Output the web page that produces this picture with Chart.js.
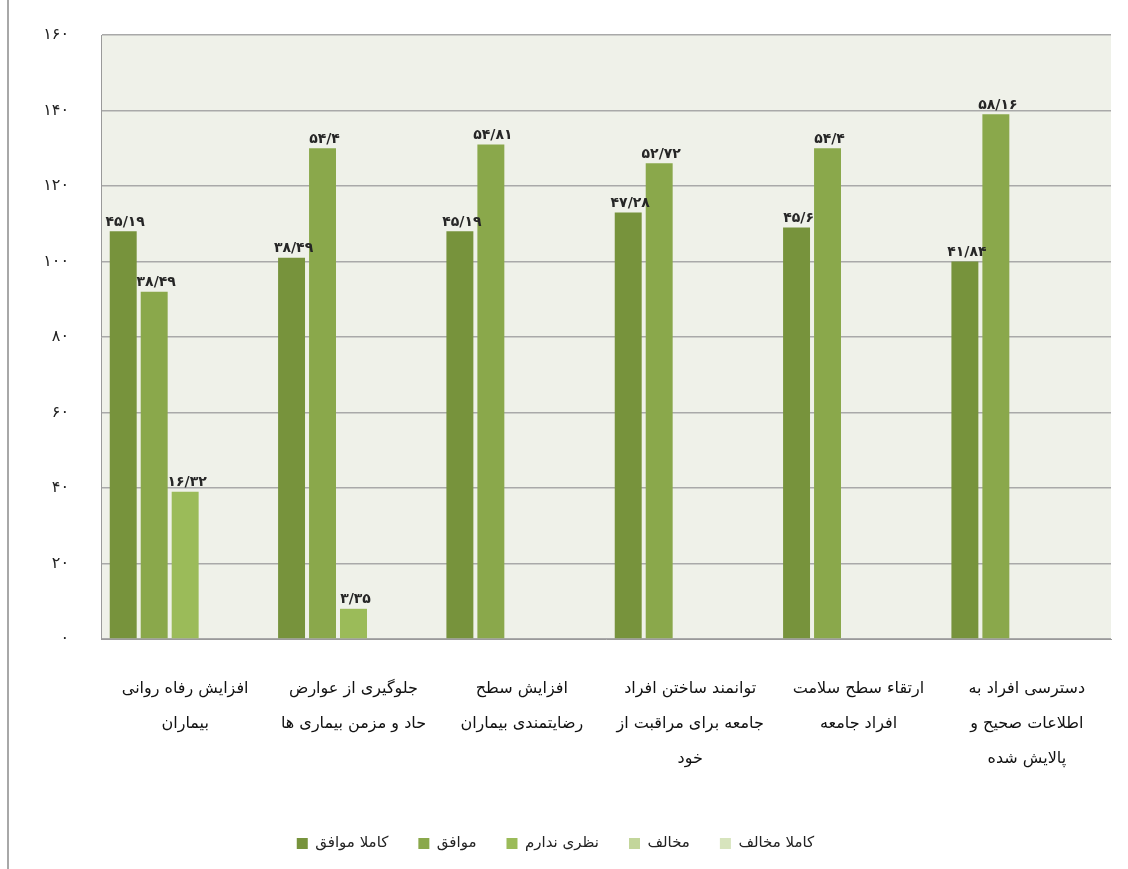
<!DOCTYPE html>
<html>
<head>
<meta charset="utf-8">
<script src="https://cdn.jsdelivr.net/npm/chart.js@4"></script>
<style>
  body { margin: 0; background: #fff; }
  #wrap { position: relative; width: 1128px; height: 869px; }
  #edge { position: absolute; left: 7px; top: 0; width: 2px; height: 869px; background: #a8a8a8; }
</style>
</head>
<body>
<div id="wrap">
  <canvas id="chart" width="1128" height="869"></canvas>
  <div id="edge"></div>
</div>
<script>
const categories = [
  ["افزایش رفاه روانی", "بیماران"],
  ["جلوگیری از عوارض", "حاد و مزمن بیماری ها"],
  ["افزایش سطح", "رضایتمندی بیماران"],
  ["توانمند ساختن افراد", "جامعه برای مراقبت از", "خود"],
  ["ارتقاء سطح سلامت", "افراد جامعه"],
  ["دسترسی افراد به", "اطلاعات صحیح و", "پالایش شده"]
];
const seriesNames = ["کاملا موافق", "موافق", "نظری ندارم", "مخالف", "کاملا مخالف"];
const colors = ["#77933c", "#8aa84b", "#9bbb59", "#c3d69b", "#d7e4bd"];

// bar heights (counts)
const fullyAgree = [108, 101, 108, 113, 109, 100];
const agree = [92, 130, 131, 126, 130, 139];
const noOpinion = [39, 8, null, null, null, null];
const disagree = [null, null, null, null, null, null];
const fullyDisagree = [null, null, null, null, null, null];

// percentages shown above bars
const fullyAgreePct = [45.19, 38.49, 45.19, 47.28, 45.6, 41.84];
const agreePct = [38.49, 54.4, 54.81, 52.72, 54.4, 58.16];
const noOpinionPct = [16.32, 3.35, null, null, null, null];

const seriesData = [fullyAgree, agree, noOpinion, disagree, fullyDisagree];
const seriesPct = [fullyAgreePct, agreePct, noOpinionPct, [], []];

const yTicks = [0, 20, 40, 60, 80, 100, 120, 140, 160];

function fa(v) {
  return String(v).replace('.', '/').replace(/[0-9]/g, d => '۰۱۲۳۴۵۶۷۸۹'[d]);
}

const FONT = "'DejaVu Sans', sans-serif";

const plotBg = {
  id: 'plotBg',
  beforeDraw(chart) {
    const a = chart.chartArea, ctx = chart.ctx;
    ctx.save();
    ctx.fillStyle = '#eff1e9';
    ctx.fillRect(a.left, a.top, a.right - a.left, a.bottom - a.top);
    ctx.restore();
  }
};

const valueLabels = {
  id: 'valueLabels',
  afterDatasetsDraw(chart) {
    const ctx = chart.ctx;
    ctx.save();
    ctx.font = "bold 14px " + FONT;
    ctx.fillStyle = '#262626';
    ctx.textAlign = 'center';
    ctx.textBaseline = 'bottom';
    chart.data.datasets.forEach((ds, i) => {
      const meta = chart.getDatasetMeta(i);
      meta.data.forEach((bar, j) => {
        const p = seriesPct[i][j];
        if (ds.data[j] == null || p == null) return;
        ctx.fillText(fa(p), bar.x + 2, bar.y - 2);
      });
    });
    ctx.restore();
  }
};

const chart = new Chart(document.getElementById('chart'), {
  type: 'bar',
  data: {
    labels: categories,
    datasets: seriesNames.map((name, i) => ({
      label: name,
      data: seriesData[i],
      backgroundColor: colors[i],
      borderColor: colors[i],
      borderWidth: 0,
      categoryPercentage: 0.92,
      barPercentage: 0.87
    }))
  },
  options: {
    responsive: false,
    animation: false,
    layout: { padding: { top: 35, right: 17, bottom: 8, left: 0 } },
    plugins: {
      tooltip: { enabled: false },
      legend: {
        position: 'bottom',
        labels: {
          font: { family: FONT, size: 15 },
          color: '#222',
          boxWidth: 11,
          boxHeight: 11,
          padding: 30
        }
      }
    },
    scales: {
      x: {
        grid: { display: false },
        border: { display: true, color: '#9a9a9a', width: 1 },
        ticks: {
          font: { family: FONT, size: 16, lineHeight: 2.2 },
          color: '#111',
          padding: 24,
          maxRotation: 0,
          autoSkip: false
        },
        afterFit(scale) { scale.height = 167; scale.paddingTop = 0; scale.paddingBottom = 0; }
      },
      y: {
        min: 0,
        max: 160,
        afterBuildTicks(scale) { scale.ticks = yTicks.map(v => ({ value: v })); },
        grid: { color: '#a9a9a9', lineWidth: 1.5, drawTicks: false },
        border: { display: true, color: '#9a9a9a', width: 1 },
        ticks: {
          font: { family: FONT, size: 16 },
          color: '#222',
          padding: 32,
          callback: v => fa(v)
        },
        afterFit(scale) { scale.width = 101; scale.paddingTop = 0; scale.paddingBottom = 0; }
      }
    }
  },
  plugins: [plotBg, valueLabels]
});
</script>
</body>
</html>
